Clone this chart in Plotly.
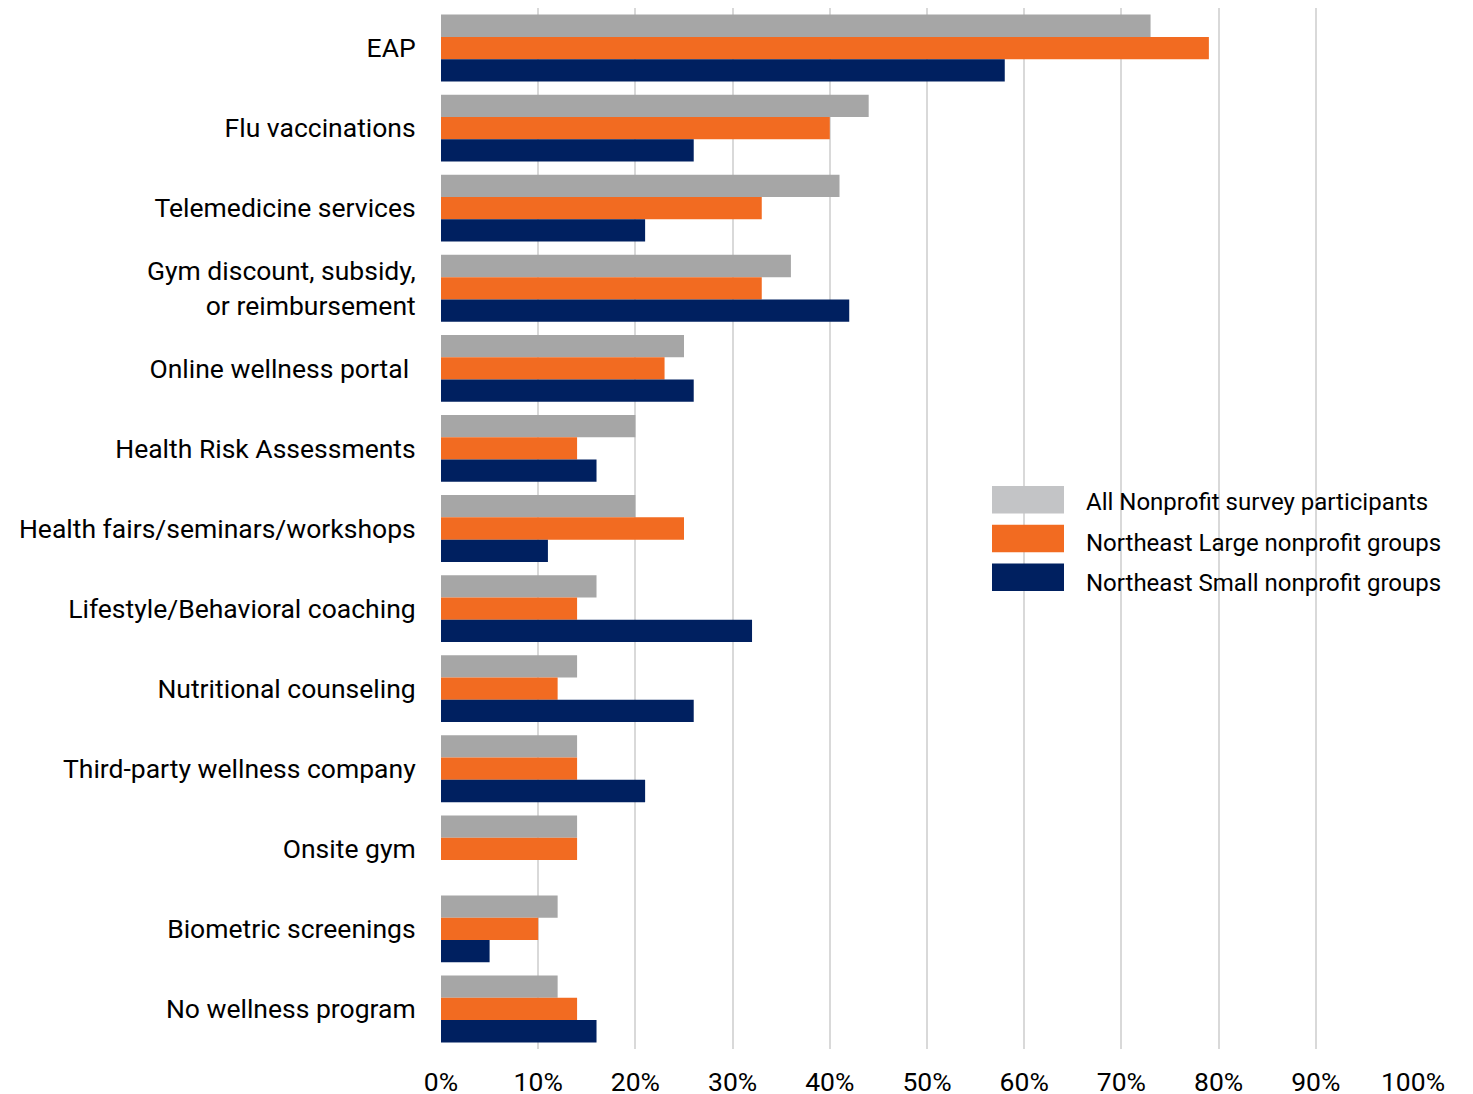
import plotly.graph_objects as go

categories = [
    "EAP",
    "Flu vaccinations",
    "Telemedicine services",
    "Gym discount, subsidy,<br>or reimbursement",
    "Online wellness portal ",
    "Health Risk Assessments",
    "Health fairs/seminars/workshops",
    "Lifestyle/Behavioral coaching",
    "Nutritional counseling",
    "Third-party wellness company",
    "Onsite gym",
    "Biometric screenings",
    "No wellness program",
]

all_nonprofit = [73, 44, 41, 36, 25, 20, 20, 16, 14, 14, 14, 12, 12]
ne_large = [79, 40, 33, 33, 23, 14, 25, 14, 12, 14, 14, 10, 14]
ne_small = [58, 26, 21, 42, 26, 16, 11, 32, 26, 21, 0, 5, 16]

series_names = [
    "All Nonprofit survey participants",
    "Northeast Large nonprofit groups",
    "Northeast Small nonprofit groups",
]
bar_colors = ["#a6a6a6", "#f26b21", "#002060"]
legend_colors = ["#c3c4c6", "#f26b21", "#002060"]

tick_vals = list(range(0, 101, 10))
tick_text = [f"{v}%" for v in tick_vals]

FONT = "Roboto, Arial, sans-serif"

fig = go.Figure()
for name, vals, col in zip(series_names, [all_nonprofit, ne_large, ne_small], bar_colors):
    fig.add_trace(go.Bar(
        y=categories,
        x=vals,
        name=name,
        orientation="h",
        marker=dict(color=col, line=dict(width=0)),
        showlegend=False,
    ))

# hand-drawn legend with big swatches, like the original
W, H = 1473, 1094
OFF = 8  # page body margin
ml, mr, mt, mb = 433, 68, 0, 53
pw, ph = W - ml - mr, H - mt - mb


def px(x):
    return (x - OFF - ml) / pw


def py(y):
    return (H - mb - (y - OFF)) / ph


for i, (name, col) in enumerate(zip(series_names, legend_colors)):
    top = 486 + i * 38.7
    fig.add_shape(
        type="rect", xref="paper", yref="paper",
        x0=px(992), x1=px(1064), y0=py(top + 27.5), y1=py(top),
        fillcolor=col, line=dict(width=0), layer="above",
    )
    fig.add_annotation(
        xref="paper", yref="paper", x=px(1084), y=py(502 + i * 40.5),
        text=name, showarrow=False, xanchor="left", yanchor="middle",
        font=dict(family=FONT, size=24, color="#000000"),
    )

fig.update_layout(
    width=W,
    height=H,
    barmode="group",
    bargap=0.165,
    bargroupgap=0,
    plot_bgcolor="white",
    paper_bgcolor="white",
    margin=dict(l=ml, r=mr, t=mt, b=mb, pad=0),
    font=dict(family=FONT, size=26.5, color="#000000"),
    xaxis=dict(
        range=[0, 100],
        tickvals=tick_vals,
        ticktext=tick_text,
        showgrid=True,
        gridcolor="#d9d9d9",
        gridwidth=2,
        zeroline=False,
        showline=False,
        ticks="outside",
        ticklen=9,
        tickcolor="rgba(0,0,0,0)",
        tickfont=dict(family=FONT, size=26.5, color="#000000"),
        automargin=False,
    ),
    yaxis=dict(
        autorange="reversed",
        showgrid=False,
        zeroline=False,
        showline=False,
        ticks="outside",
        ticklen=19,
        tickcolor="rgba(0,0,0,0)",
        tickfont=dict(family=FONT, size=26.5, color="#000000"),
        automargin=False,
    ),
)

fig.write_html("out.html")
